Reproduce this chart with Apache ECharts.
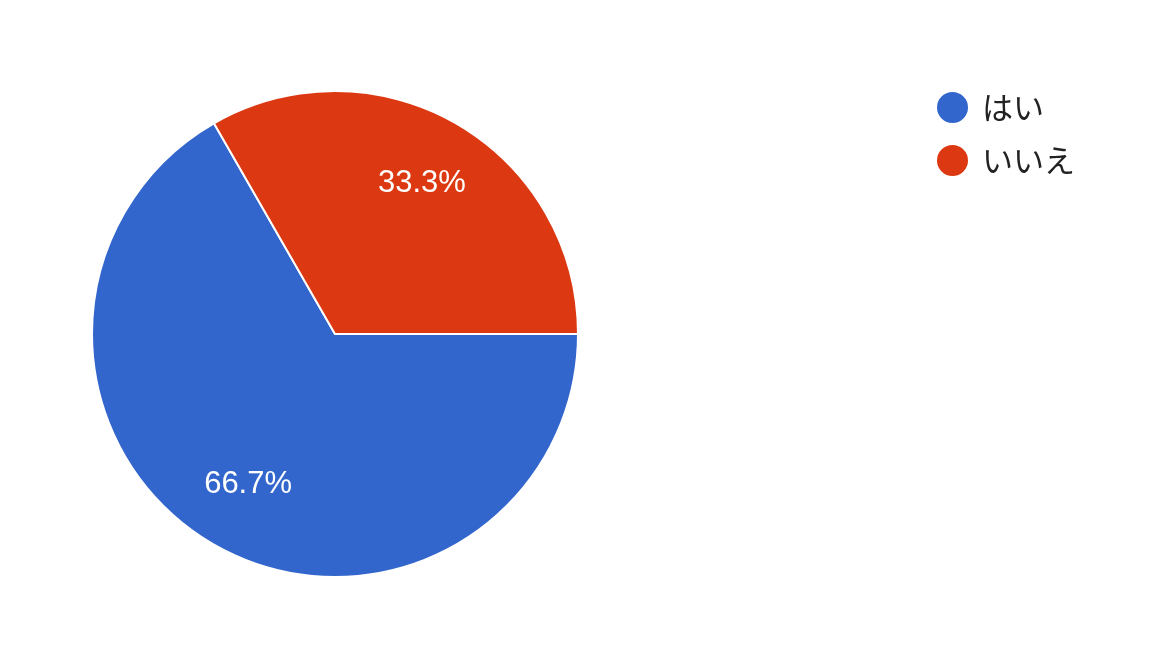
<!DOCTYPE html>
<html>
<head>
<meta charset="utf-8">
<script src="https://cdn.jsdelivr.net/npm/echarts@6/dist/echarts.min.js"></script>
<style>
html,body{margin:0;padding:0;background:#fff;}
#c{width:1163px;height:659px;}
</style>
</head>
<body>
<div id="c"></div>
<script>
const categories = ['はい', 'いいえ'];
const values = [66.7, 33.3];
const colors = ['#3366cc', '#dc3912'];

const data = categories.map((n, i) => ({ name: n, value: values[i], itemStyle: { color: colors[i] } }));

const chart = echarts.init(document.getElementById('c'), null, { renderer: 'canvas' });
chart.setOption({
  animation: false,
  backgroundColor: '#ffffff',
  legend: {
    data: categories,
    orient: 'vertical',
    left: 930,
    top: 85,
    icon: 'circle',
    itemWidth: 33,
    itemHeight: 33,
    itemGap: 18,
    textStyle: {
      fontFamily: 'Noto Sans CJK JP',
      fontSize: 31,
      color: '#222222',
      padding: [0, 0, 0, 8]
    }
  },
  series: [
    {
      type: 'pie',
      center: [335, 334],
      radius: 243,
      startAngle: 0,
      clockwise: true,
      data: data,
      label: { show: false },
      labelLine: { show: false },
      itemStyle: { borderColor: '#ffffff', borderWidth: 2 },
      emphasis: { disabled: true }
    },
    {
      type: 'pie',
      center: [335, 334],
      radius: [98, 243],
      startAngle: 0,
      clockwise: true,
      silent: true,
      data: data.map(d => ({ name: d.name, value: d.value, itemStyle: { color: 'rgba(0,0,0,0)' } })),
      itemStyle: { borderWidth: 0 },
      label: {
        show: true,
        position: 'inside',
        formatter: p => p.value.toFixed(1) + '%',
        color: '#ffffff',
        fontSize: 31,
        padding: [6, 0, 0, 0],
        fontFamily: 'Liberation Sans, Arial, sans-serif'
      },
      labelLine: { show: false },
      emphasis: { disabled: true }
    }
  ]
});
</script>
</body>
</html>
